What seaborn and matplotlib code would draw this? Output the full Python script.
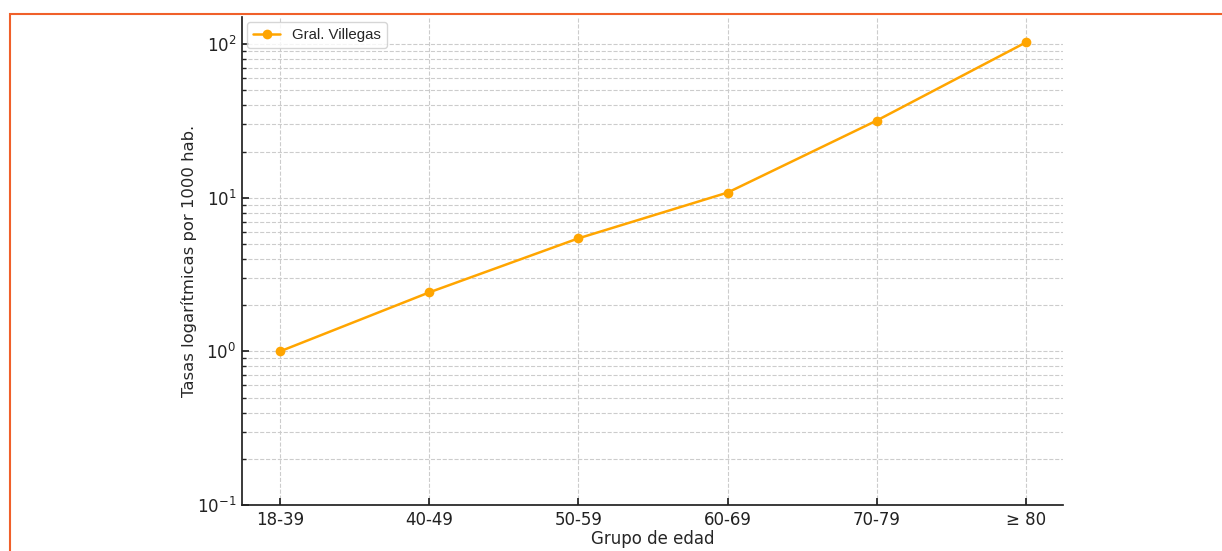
import matplotlib
matplotlib.use("Agg")
import matplotlib.pyplot as plt
import seaborn as sns
import pandas as pd
from matplotlib.patches import Rectangle

grupos = ["18-39", "40-49", "50-59", "60-69", "70-79", "≥ 80"]
tasas = [1.0, 2.42, 5.44, 10.8, 31.8, 102.6]
serie = "Gral. Villegas"

sns.set_theme(style="ticks")
plt.rcParams['font.family'] = ['DejaVu Sans']

fig = plt.figure(figsize=(12.22, 5.51), dpi=100)
ax = fig.add_axes([0.198, 0.0835, 0.672, 0.8855])

x = list(range(len(grupos)))
sns.lineplot(x=x, y=tasas, ax=ax, color="orange", marker="o", markersize=7,
             markeredgewidth=0, linewidth=1.8, label=serie)
ax.set_yscale("log")
ax.set_ylim(0.1, 150)
ax.set_xticks(x)
ax.set_xticklabels(grupos)
ax.set_xlim(-0.255, 5.25)
ax.tick_params(axis="both", which="major", labelsize=12, colors="#222222",
               direction="in", length=5, pad=4)
ax.tick_params(axis="y", which="minor", direction="in", length=3, colors="#222222")
ax.set_xlabel("Grupo de edad", fontsize=12, labelpad=1)
ax.set_ylabel("Tasas logarítmicas por 1000 hab.", fontsize=11.8, labelpad=0)
ax.grid(True, which="major", axis="both", linestyle="--", color="#cccccc", linewidth=0.8)
ax.grid(True, which="minor", axis="y", linestyle="--", color="#cccccc", linewidth=0.8)
for s in ["top", "right"]:
    ax.spines[s].set_visible(False)
for s in ["left", "bottom"]:
    ax.spines[s].set_color("#222222")
leg = ax.legend(loc="upper left", frameon=True, borderaxespad=0.35, handlelength=1.8,
                prop={"family": ["Liberation Sans", "DejaVu Sans"], "size": 10.8,
                      "stretch": "condensed"})
leg.get_frame().set_edgecolor("#cccccc")

fig.patches.append(Rectangle((10/1222, -0.1), 1.2, (551-14)/551 + 0.1,
                             transform=fig.transFigure, fill=False,
                             edgecolor="#F0602A", linewidth=1.5))

fig.savefig("out.png", dpi=100)
